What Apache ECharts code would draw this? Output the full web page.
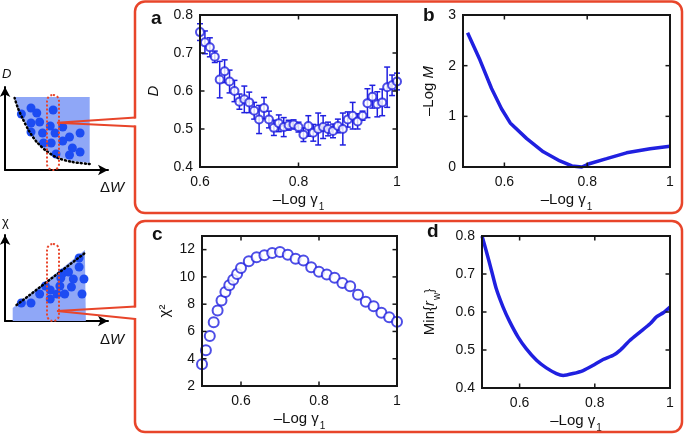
<!DOCTYPE html>
<html><head><meta charset="utf-8">
<script src="https://cdn.jsdelivr.net/npm/echarts@6/dist/echarts.min.js"></script>
<style>html,body{margin:0;padding:0;background:#fff;overflow:hidden}#c{width:685px;height:435px}</style>
</head><body><div id="c"></div><script>
// ---------- DATA ----------
// Panel a: D vs -Log gamma1 with error bars
const aX = [0.60,0.61,0.62,0.63,0.64,0.65,0.66,0.67,0.68,0.69,0.70,0.71,0.72,0.73,0.74,0.75,0.76,0.77,0.78,0.79,0.80,0.81,0.82,0.83,0.84,0.85,0.86,0.87,0.88,0.89,0.90,0.91,0.92,0.93,0.94,0.95,0.96,0.97,0.98,0.99,1.00];
const aY = [0.755,0.728,0.715,0.69,0.63,0.652,0.625,0.60,0.572,0.578,0.57,0.548,0.525,0.555,0.525,0.503,0.515,0.505,0.51,0.512,0.505,0.485,0.508,0.49,0.50,0.505,0.50,0.495,0.508,0.50,0.525,0.535,0.52,0.535,0.568,0.585,0.565,0.57,0.61,0.615,0.625];
const aErr = [0.022,0.03,0.025,0.015,0.048,0.03,0.03,0.028,0.02,0.035,0.027,0.022,0.037,0.028,0.022,0.02,0.022,0.025,0.013,0.012,0.013,0.018,0.027,0.022,0.042,0.03,0.018,0.018,0.018,0.042,0.02,0.035,0.02,0.012,0.038,0.03,0.033,0.035,0.053,0.027,0.022];
// Panel b: -Log M
const bX = [0.511,0.541,0.569,0.593,0.614,0.654,0.694,0.734,0.763,0.787,0.807,0.847,0.895,0.952,1.0];
const bY = [2.65,2.11,1.55,1.15,0.87,0.56,0.30,0.12,0.02,0.0,0.07,0.165,0.28,0.36,0.41];
// Panel c: chi^2
const cX = [0.50,0.51,0.52,0.53,0.54,0.55,0.56,0.57,0.58,0.59,0.60,0.62,0.64,0.66,0.68,0.70,0.72,0.74,0.76,0.78,0.80,0.82,0.84,0.86,0.88,0.90,0.92,0.94,0.96,0.98,1.00];
const cY = [3.59,4.63,5.66,6.68,7.54,8.27,8.9,9.39,9.8,10.22,10.66,11.15,11.44,11.59,11.76,11.83,11.63,11.34,11.2,10.7,10.37,10.17,9.93,9.56,9.32,8.7,8.17,7.85,7.37,7.05,6.71];
// Panel d: Min{r_w}
const dX = [0.5,0.512,0.525,0.538,0.556,0.574,0.596,0.618,0.645,0.671,0.698,0.716,0.742,0.769,0.796,0.822,0.849,0.867,0.893,0.92,0.947,0.964,0.982,1.0];
const dY = [0.8,0.758,0.71,0.661,0.613,0.574,0.534,0.503,0.473,0.453,0.438,0.433,0.438,0.446,0.46,0.475,0.486,0.499,0.525,0.547,0.569,0.587,0.598,0.613];

// Tick values and labels
const xTicksA = [0.6,0.8,1.0], xLabelsA = ['0.6','0.8','1'];
const xTicksB = [0.6,0.8,1.0], xLabelsB = ['0.6','0.8','1'];
const yTicksA = [0.4,0.5,0.6,0.7,0.8], yLabelsA = ['0.4','0.5','0.6','0.7','0.8'];
const yTicksB = [0,1,2,3], yLabelsB = ['0','1','2','3'];
const yTicksC = [2,4,6,8,10,12], yLabelsC = ['2','4','6','8','10','12'];
const yTicksD = [0.4,0.5,0.6,0.7,0.8], yLabelsD = ['0.4','0.5','0.6','0.7','0.8'];

// Schematic illustrations (schematic units)
const s1RegionX = [10,88,88,70,55,43,33,25,18,13,10];
const s1RegionY = [73,73,7,9,13,20,29,40,53,64,72];
const s1CurveX = [88,70,55,43,33,25,18,13,10];
const s1CurveY = [6,8,12,19,28,39,52,63,72];
const s1DotX = [17,27,50,33,27,36,47,27,39,60,52,78,67,40,48,60,70,78,53,67];
const s1DotY = [56,62,60,57,47,48,44,38,37,43,37,37,33,27,27,29,22,18,16,15];
const s2RegionX = [8,8,83,84];
const s2RegionY = [0,13,71,0];
const s2LineX = [12,83];
const s2LineY = [16,68];
const s2DotX = [17,27,36,42,47,47,54,57,60,66,58,71,77,77,82,69,62,80];
const s2DotY = [18,18,27,35,31,22,27,35,48,49,43,42,54,63,42,34,27,27];

// ---------- STYLE / LAYOUT ----------
const FONT = '"Liberation Sans", Arial, Helvetica, sans-serif';
const BLUE = '#2020e0', RED = '#e8452a', TXT = '#111', FRAME = '#161616';
const panels = [
  {left:200, top:15, width:197, height:152},
  {left:463, top:15, width:207, height:152},
  {left:202, top:236, width:195, height:150},
  {left:482, top:236, width:188, height:152}
];

function lab(ticks, labels){ return v => { const i = ticks.findIndex(t => Math.abs(t - v) < 1e-9); return i >= 0 ? labels[i] : ''; }; }
const nameRich = {
  n:{fontSize:15, lineHeight:16, verticalAlign:'top', fontFamily:FONT, color:TXT},
  s:{fontSize:10, lineHeight:10, verticalAlign:'top', padding:[10,0,0,1], fontFamily:FONT, color:TXT},
  i:{fontSize:15, lineHeight:16, verticalAlign:'top', fontStyle:'italic', fontFamily:FONT, color:TXT}
};
// frame + inside ticks on all four sides, positioned through the axes' scales
function frameSeries(g, xmin, ymin, xt, yt){
  return {type:'custom', xAxisIndex:g, yAxisIndex:g, clip:false, z:60, data:[[xmin, ymin]],
    renderItem:function(params, api){
      const cs = params.coordSys; const L = 4.5; const ch = [];
      const st = {stroke:FRAME, lineWidth:1.5, fill:null};
      ch.push({type:'rect', shape:{x:cs.x, y:cs.y, width:cs.width, height:cs.height}, style:{stroke:FRAME, lineWidth:2, fill:null}});
      xt.forEach(v => { const px = api.coord([v, ymin])[0];
        ch.push({type:'line', shape:{x1:px, y1:cs.y+cs.height, x2:px, y2:cs.y+cs.height-L}, style:st});
        ch.push({type:'line', shape:{x1:px, y1:cs.y, x2:px, y2:cs.y+L}, style:st}); });
      yt.forEach(v => { const py = api.coord([xmin, v])[1];
        ch.push({type:'line', shape:{x1:cs.x, y1:py, x2:cs.x+L, y2:py}, style:st});
        ch.push({type:'line', shape:{x1:cs.x+cs.width, y1:py, x2:cs.x+cs.width-L, y2:py}, style:st}); });
      return {type:'group', children:ch};
    }};
}
function axesFor(g, xmin, xmax, xt, xl, ymin, ymax, yt, yl, yName, yGap){
  const x = {type:'value', gridIndex:g, position:'bottom', min:xmin, max:xmax,
     axisLine:{show:true, onZero:false, lineStyle:{color:FRAME, width:2}}, axisTick:{show:false},
     axisLabel:{customValues:xt, formatter:lab(xt,xl), color:TXT, fontSize:14, fontFamily:FONT, margin:8},
     splitLine:{show:false}, name:'{n|–Log γ}{s|1}', nameLocation:'middle', nameGap:25, nameTextStyle:{rich:nameRich}};
  const y = {type:'value', gridIndex:g, position:'left', min:ymin, max:ymax,
     axisLine:{show:true, onZero:false, lineStyle:{color:FRAME, width:2}}, axisTick:{show:false},
     axisLabel:{customValues:yt, formatter:lab(yt,yl), color:TXT, fontSize:14, fontFamily:FONT, margin:7},
     splitLine:{show:false}, name:yName, nameLocation:'middle', nameRotate:90, nameGap:yGap, nameTextStyle:{rich:nameRich}};
  return {x, y};
}
function schemAxes(g, xmax, ymax){
  const al = {show:true, onZero:false, symbol:['none','arrow'], symbolSize:[8,10], lineStyle:{color:'#000', width:2}};
  return {x:{type:'value', gridIndex:g, min:0, max:xmax, axisLine:al, axisTick:{show:false}, axisLabel:{show:false}, splitLine:{show:false}},
          y:{type:'value', gridIndex:g, min:0, max:ymax, axisLine:al, axisTick:{show:false}, axisLabel:{show:false}, splitLine:{show:false}}};
}
function polyItem(xs, ys, style){ return function(params, api){ return {type:'polygon', shape:{points:xs.map((x,i) => api.coord([x, ys[i]]))}, style:style}; }; }

const box = {show:true, borderColor:FRAME, borderWidth:2, backgroundColor:'transparent', outerBoundsMode:'none'};
const A = axesFor(0, 0.6, 1.0, xTicksA, xLabelsA, 0.4, 0.8, yTicksA, yLabelsA, '{i|D}', 38);
const B = axesFor(1, 0.5, 1.0, xTicksB, xLabelsB, 0, 3, yTicksB, yLabelsB, '{n|–Log }{i|M}', 26);
const C = axesFor(2, 0.5, 1.0, xTicksB, xLabelsB, 2, 13, yTicksC, yLabelsC, '{n|χ²}', 29);
const D = axesFor(3, 0.5, 1.0, xTicksB, xLabelsB, 0.4, 0.8, yTicksD, yLabelsD, '{n|Min{}{i|r}{s|w}{n|\u007d}', 44);
const S1 = schemAxes(4, 107, 83);
const S2 = schemAxes(5, 107, 86);

const option = {
  backgroundColor:'#fff', animation:false,
  grid:[...panels.map(p => Object.assign({}, p, box)),
        {left:5, top:87, width:103, height:83, outerBoundsMode:'none'},
        {left:5, top:235, width:103, height:86, outerBoundsMode:'none'}],
  xAxis:[A.x, B.x, C.x, D.x, S1.x, S2.x],
  yAxis:[A.y, B.y, C.y, D.y, S1.y, S2.y],
  series:[
    {type:'custom', xAxisIndex:0, yAxisIndex:0, clip:false, z:2, data: aX.map((x,i) => [x, aY[i]-aErr[i], aY[i]+aErr[i]]),
     renderItem:function(params, api){ const x = api.value(0); const p1 = api.coord([x, api.value(1)]), p2 = api.coord([x, api.value(2)]);
       const st = {stroke:BLUE, lineWidth:1.5};
       return {type:'group', children:[{type:'line', shape:{x1:p1[0], y1:p1[1], x2:p2[0], y2:p2[1]}, style:st},
         {type:'line', shape:{x1:p1[0]-3, y1:p1[1], x2:p1[0]+3, y2:p1[1]}, style:st},
         {type:'line', shape:{x1:p2[0]-3, y1:p2[1], x2:p2[0]+3, y2:p2[1]}, style:st}]}; }},
    {type:'scatter', xAxisIndex:0, yAxisIndex:0, clip:false, data:aX.map((x,i)=>[x,aY[i]]), symbol:'emptyCircle', symbolSize:8, itemStyle:{color:BLUE, borderColor:BLUE, borderWidth:1.5}},
    {type:'line', xAxisIndex:1, yAxisIndex:1, clip:false, showSymbol:false, symbol:'none', data:bX.map((x,i)=>[x,bY[i]]), lineStyle:{color:BLUE, width:3.5}},
    {type:'scatter', xAxisIndex:2, yAxisIndex:2, clip:false, data: cX.map((x,i) => [x, cY[i]]), symbol:'emptyCircle', symbolSize:10, itemStyle:{color:BLUE, borderColor:BLUE, borderWidth:2}},
    {type:'line', xAxisIndex:3, yAxisIndex:3, clip:false, showSymbol:false, symbol:'none', smooth:0.2, data: dX.map((x,i) => [x, dY[i]]), lineStyle:{color:BLUE, width:3.5}},
    {type:'custom', xAxisIndex:4, yAxisIndex:4, clip:false, z:1, data:[[0,0]], renderItem: polyItem(s1RegionX, s1RegionY, {fill:'#8fa7f7'})},
    {type:'line', xAxisIndex:4, yAxisIndex:4, clip:false, symbol:'none', z:3, smooth:0.3, data: s1CurveX.map((x,i) => [x, s1CurveY[i]]), lineStyle:{color:'#000', width:2.5, type:[1,3], cap:'round'}},
    {type:'scatter', xAxisIndex:4, yAxisIndex:4, clip:false, z:2, data: s1DotX.map((x,i) => [x, s1DotY[i]]), symbolSize:9, itemStyle:{color:'#1d4cf2', opacity:1}},
    {type:'custom', xAxisIndex:5, yAxisIndex:5, clip:false, z:1, data:[[0,0]], renderItem: polyItem(s2RegionX, s2RegionY, {fill:'#8fa7f7'})},
    {type:'scatter', xAxisIndex:5, yAxisIndex:5, clip:false, z:2, data: s2DotX.map((x,i) => [x, s2DotY[i]]), symbolSize:9, itemStyle:{color:'#1d4cf2', opacity:1}},
    {type:'line', xAxisIndex:5, yAxisIndex:5, clip:false, symbol:'none', z:3, data: s2LineX.map((x,i) => [x, s2LineY[i]]), lineStyle:{color:'#000', width:2.5, type:[1,3], cap:'round'}},
    frameSeries(0, 0.6, 0.4, xTicksA, yTicksA),
    frameSeries(1, 0.5, 0, xTicksB, yTicksB),
    frameSeries(2, 0.5, 2, xTicksB, yTicksC),
    frameSeries(3, 0.5, 0.4, xTicksB, yTicksD)
  ],
  graphic:[
    {type:'rect', z:50, shape:{x:135, y:1.5, width:547, height:211.5, r:10}, style:{fill:null, stroke:RED, lineWidth:2.5}},
    {type:'rect', z:50, shape:{x:135, y:221, width:547, height:211, r:10}, style:{fill:null, stroke:RED, lineWidth:2.5}},
    {type:'rect', z:51, shape:{x:133, y:118.5, width:5, height:7}, style:{fill:'#fff'}},
    {type:'rect', z:51, shape:{x:133, y:307.5, width:5, height:10.5}, style:{fill:'#fff'}},
    {type:'polyline', z:52, shape:{points:[[135.5,117.5],[57,122.7],[135.5,126.5]]}, style:{fill:null, stroke:RED, lineWidth:2}},
    {type:'polyline', z:52, shape:{points:[[135.5,306.5],[57,311],[135.5,319]]}, style:{fill:null, stroke:RED, lineWidth:2}},
    {type:'rect', z:53, shape:{x:47, y:95, width:12, height:75, r:6}, style:{fill:null, stroke:RED, lineWidth:2, lineDash:[2,2]}},
    {type:'rect', z:53, shape:{x:47, y:244, width:12, height:77, r:6}, style:{fill:null, stroke:RED, lineWidth:2, lineDash:[2,2]}},
    // plot frames (same layout as the grids), on top as a fallback
    ...panels.map(p => ({type:'rect', z:61, silent:true, shape:{x:p.left, y:p.top, width:p.width, height:p.height}, style:{fill:null, stroke:FRAME, lineWidth:2}})),
    {type:'text', z:60, left:151, top:9, style:{text:'a', font:'bold 19px ' + FONT, fill:TXT}},
    {type:'text', z:60, left:423, top:6, style:{text:'b', font:'bold 19px ' + FONT, fill:TXT}},
    {type:'text', z:60, left:152, top:225, style:{text:'c', font:'bold 19px ' + FONT, fill:TXT}},
    {type:'text', z:60, left:427, top:222, style:{text:'d', font:'bold 19px ' + FONT, fill:TXT}},
    {type:'text', z:60, left:2, top:68, style:{text:'D', font:'italic 13px ' + FONT, fill:TXT}},
    {type:'text', z:60, left:2, top:216, style:{text:'χ', font:'13px ' + FONT, fill:TXT}},
    {type:'text', z:60, left:100, top:180, style:{text:'Δ', font:'15px ' + FONT, fill:TXT}},
    {type:'text', z:60, left:110, top:180, style:{text:'W', font:'italic 15px ' + FONT, fill:TXT}},
    {type:'text', z:60, left:100, top:332, style:{text:'Δ', font:'15px ' + FONT, fill:TXT}},
    {type:'text', z:60, left:110, top:332, style:{text:'W', font:'italic 15px ' + FONT, fill:TXT}}
  ]
};
const chart = echarts.init(document.getElementById('c'), null, {renderer:'canvas'});
chart.setOption(option);
</script></body></html>
